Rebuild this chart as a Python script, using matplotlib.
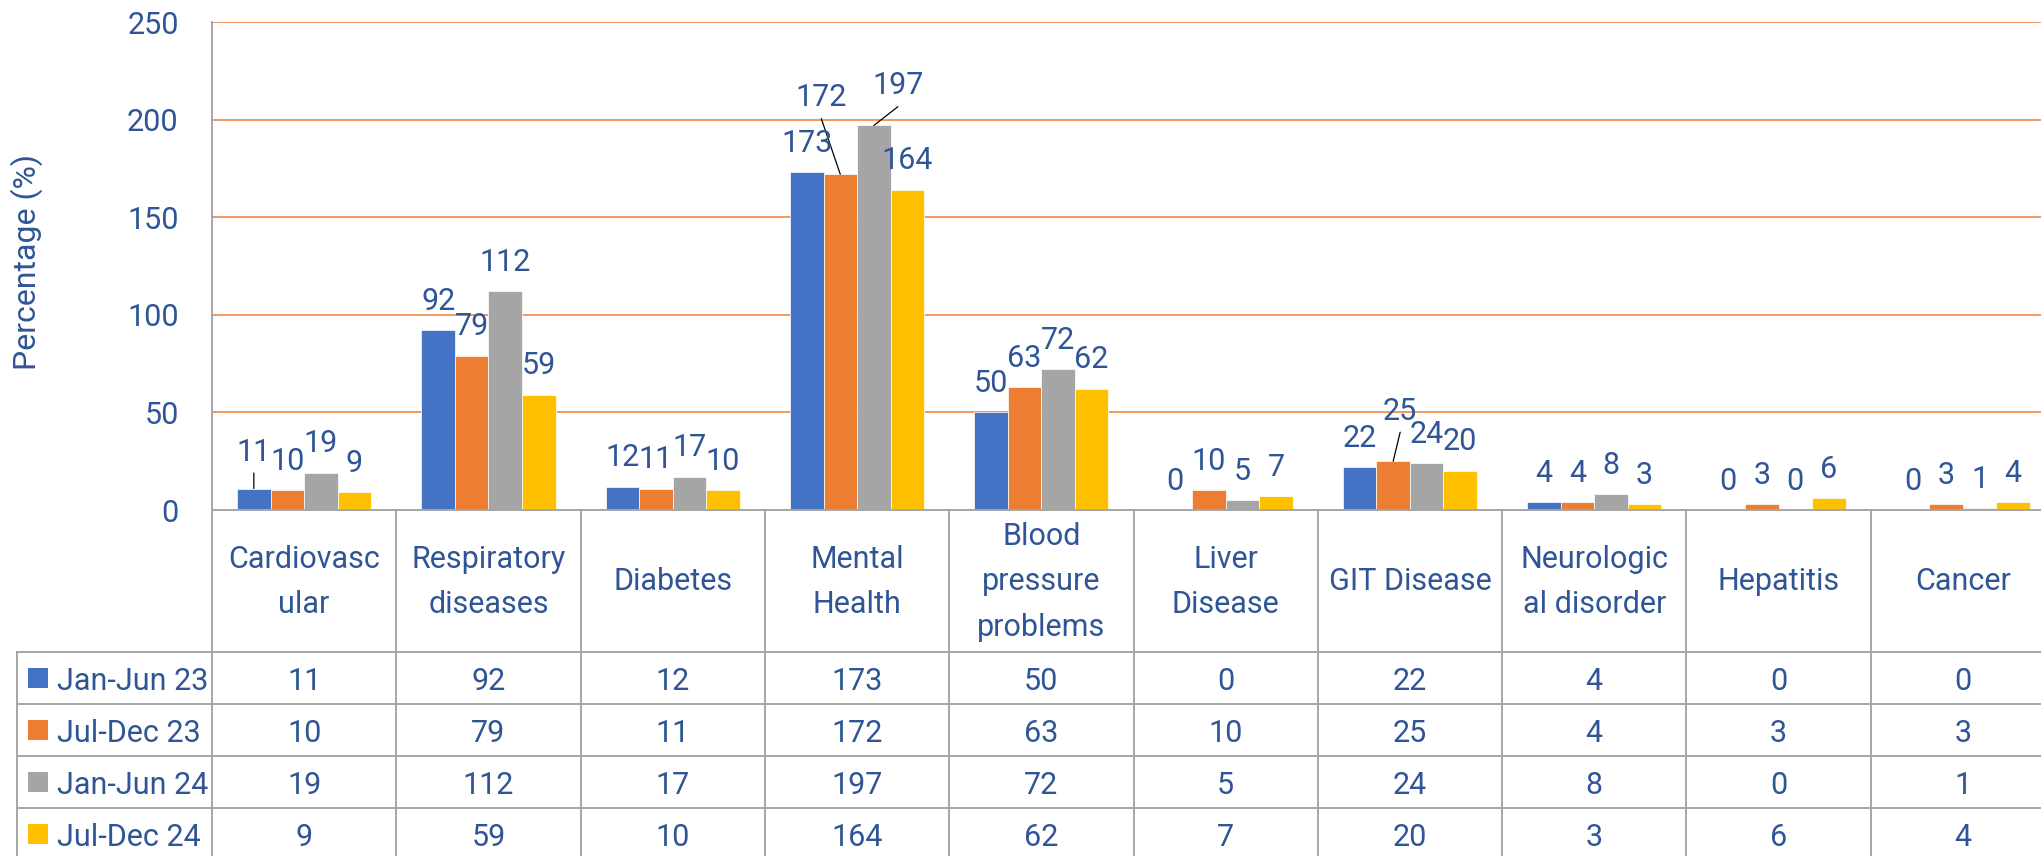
import matplotlib
matplotlib.use("Agg")
import matplotlib.pyplot as plt
import matplotlib.transforms as mtrans
from matplotlib.lines import Line2D
from matplotlib.patches import Rectangle

# ---------------- data ----------------
categories = ["Cardiovasc\nular", "Respiratory\ndiseases", "Diabetes", "Mental\nHealth",
              "Blood\npressure\nproblems", "Liver\nDisease", "GIT Disease",
              "Neurologic\nal disorder", "Hepatitis", "Cancer"]
series_names = ["Jan-Jun 23", "Jul-Dec 23", "Jan-Jun 24", "Jul-Dec 24"]
jan_jun_23 = [11, 92, 12, 173, 50, 0, 22, 4, 0, 0]
jul_dec_23 = [10, 79, 11, 172, 63, 10, 25, 4, 3, 3]
jan_jun_24 = [19, 112, 17, 197, 72, 5, 24, 8, 0, 1]
jul_dec_24 = [9, 59, 10, 164, 62, 7, 20, 3, 6, 4]
y_ticks = [0, 50, 100, 150, 200, 250]
y_label = "Percentage (%)"

# ---------------- style ----------------
series_values = [jan_jun_23, jul_dec_23, jan_jun_24, jul_dec_24]
colors = ["#4472C4", "#ED7D31", "#A5A5A5", "#FFC000"]
text_color = "#2F5597"
grid_color = "#F0883F"
line_color = "#A6A6A6"
FS = 22
WEIGHT = "normal"
plt.rcParams["font.family"] = ["Roboto", "DejaVu Sans"]

W, H, DPI = 2041, 856, 100
PT = 72.0 / DPI  # pixels -> points


def fx(px):
    return px / W


def fy(py):
    return 1 - py / H


fig = plt.figure(figsize=(W / DPI, H / DPI), dpi=DPI)
ax = fig.add_axes([fx(212), fy(510), 1843 / W, 488 / H])
ax.set_xlim(-0.5, 9.5)
ax.set_ylim(0, 250)
ax.set_yticks(y_ticks)
ax.set_xticks([])
ax.yaxis.grid(True, color=grid_color, linewidth=1.2)
ax.set_axisbelow(True)
for s in ["top", "right"]:
    ax.spines[s].set_visible(False)
for s in ["left", "bottom"]:
    ax.spines[s].set_color(line_color)
    ax.spines[s].set_linewidth(1.4)
ax.tick_params(axis="y", length=0, pad=24, labelsize=FS, labelcolor=text_color)
for t in ax.get_yticklabels():
    t.set_fontweight(WEIGHT)

fig.text(fx(27), fy(262), y_label, rotation=90, ha="center", va="center",
         fontsize=FS + 1, color=text_color)

# bars
bw = 0.182
x = list(range(len(categories)))
label_offsets = {(0, 0): (0, 39.5), (3, 1): (-19, 79.7), (3, 2): (24, 42.7), (6, 1): (7, 53)}
for j, vals in enumerate(series_values):
    xs = [i + (j - 1.5) * bw for i in x]
    ax.bar(xs, vals, bw, color=colors[j], edgecolor="white", linewidth=0.5, zorder=2)
    for i, (xb, v) in enumerate(zip(xs, vals)):
        dx, dy = label_offsets.get((i, j), (0, 32))
        ax.annotate(str(v), (xb, v), xytext=(dx * PT, dy * PT), textcoords="offset points",
                    ha="center", va="center_baseline", fontsize=FS, color=text_color,
                    fontweight=WEIGHT, zorder=4, annotation_clip=False)
        if (i, j) in label_offsets:
            ax.annotate("", (xb, v), xytext=(dx * PT, (dy - 24) * PT), textcoords="offset points",
                        arrowprops=dict(arrowstyle="-", color="black", lw=0.9,
                                        shrinkA=0, shrinkB=0), zorder=3, annotation_clip=False)

# table
trans = mtrans.blended_transform_factory(ax.transData, fig.transFigure)
bottom_px = 862
for k in range(len(categories) + 1):
    fig.add_artist(Line2D([k - 0.5, k - 0.5], [fy(510), fy(bottom_px)], transform=trans,
                          color=line_color, lw=1.4))
fig.add_artist(Line2D([fx(17), fx(17)], [fy(652), fy(bottom_px)], transform=fig.transFigure,
                      color=line_color, lw=1.4))
row_lines = [652, 704, 756, 808]
for r in row_lines:
    fig.add_artist(Line2D([fx(17), 1.0], [fy(r), fy(r)], transform=fig.transFigure,
                          color=line_color, lw=1.4))

for i, cat in enumerate(categories):
    fig.text(i, fy(582), cat, transform=trans, ha="center", va="center",
             multialignment="center", fontsize=FS, color=text_color, fontweight=WEIGHT,
             linespacing=1.7)

row_centers = [678, 730, 782, 834]
for j, (name, vals) in enumerate(zip(series_names, series_values)):
    rc = row_centers[j]
    fig.add_artist(Rectangle((fx(28), fy(rc + 10)), 20 / W, 20 / H, transform=fig.transFigure,
                             facecolor=colors[j], edgecolor="none"))
    fig.text(fx(57), fy(rc), name, ha="left", va="center_baseline", fontsize=FS,
             color=text_color, fontweight=WEIGHT)
    for i, v in enumerate(vals):
        fig.text(i, fy(rc), str(v), transform=trans, ha="center", va="center_baseline",
                 fontsize=FS, color=text_color, fontweight=WEIGHT)

fig.savefig("out.png", dpi=DPI)
